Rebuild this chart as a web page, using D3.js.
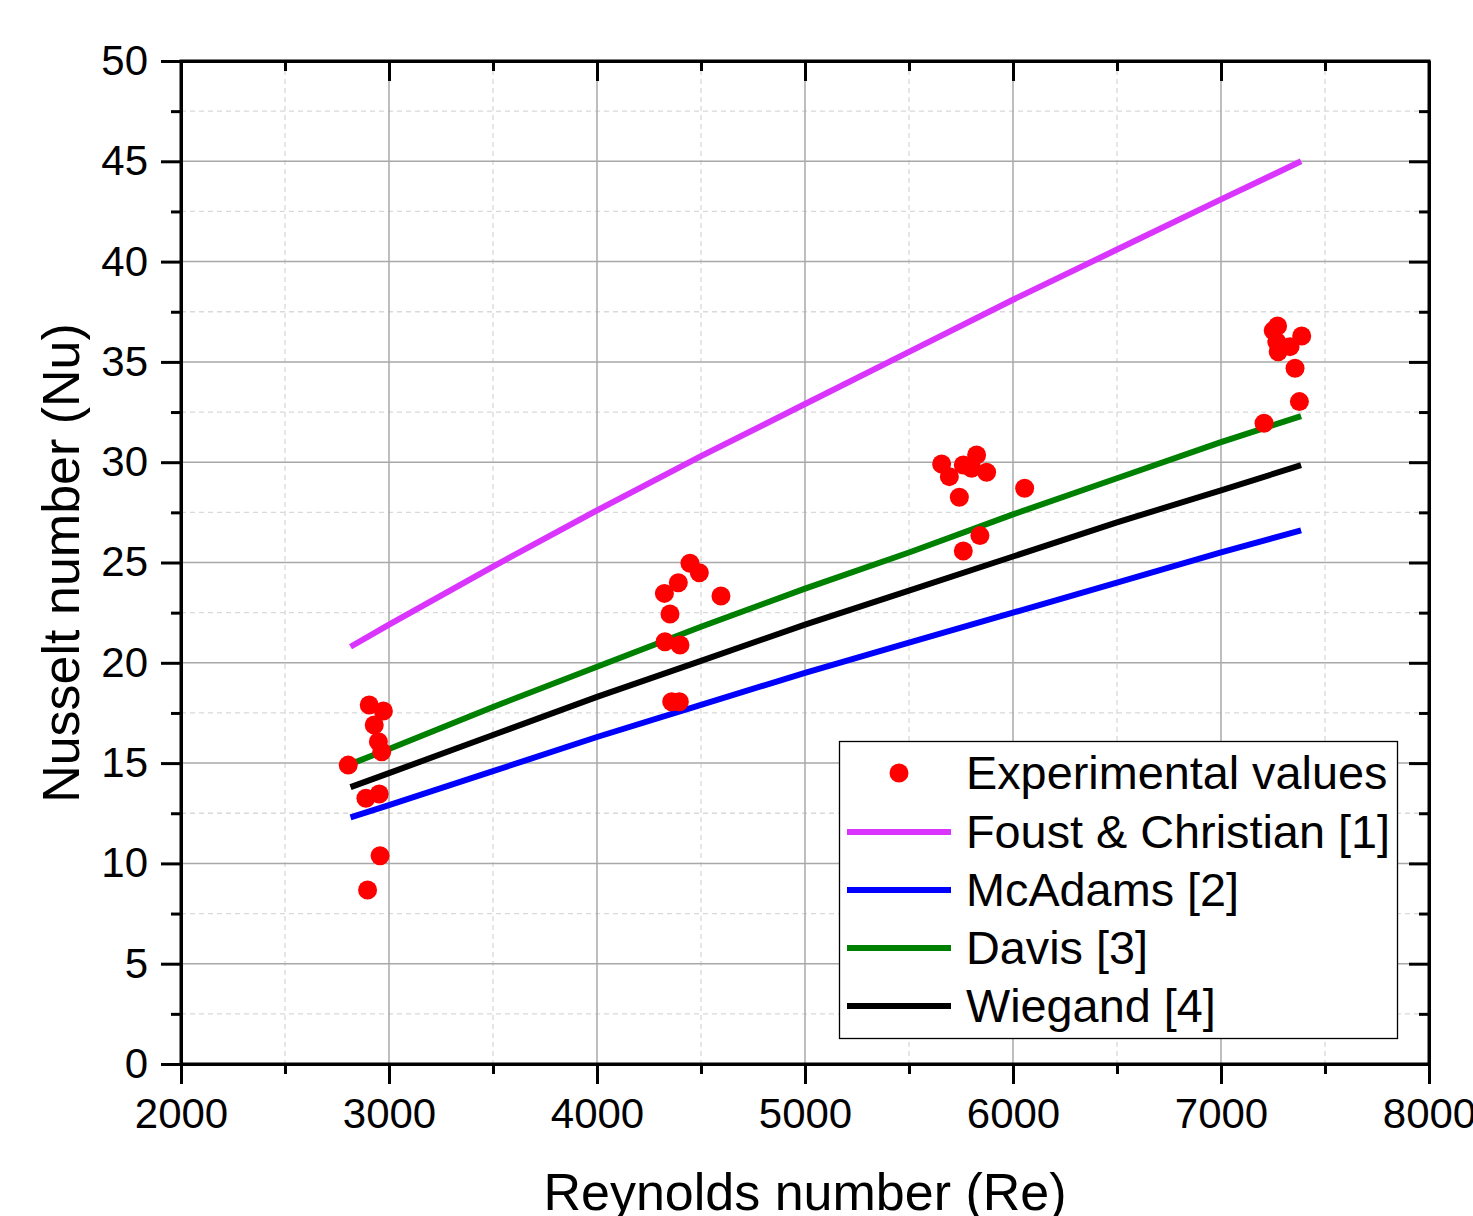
<!DOCTYPE html>
<html><head><meta charset="utf-8">
<script src="https://cdn.jsdelivr.net/npm/d3@7"></script>
<style>body{margin:0;background:#fff}svg{display:block;font-family:"Liberation Sans",Arial,sans-serif}</style>
</head><body><svg id="c" width="1473" height="1216"></svg>
<script>
// ---- data ----
const expRe = [2905,2973,2929,2949,2965,2804,2889,2953,2957,2897,
  4447,4492,4391,4324,4596,4351,4327,4399,4359,4396,
  5825,5657,5761,5801,5873,5694,5742,6056,5841,5761,
  7272,7251,7388,7268,7332,7275,7356,7377,7207];
const expNu = [17.9,17.6,16.9,16.07,15.57,14.9,13.25,13.46,10.38,8.67,
  24.96,24.49,23.99,23.46,23.33,22.43,21.05,20.89,18.06,18.06,
  30.36,29.91,29.86,29.70,29.5,29.28,28.25,28.70,26.34,25.57,
  36.79,36.56,36.29,36.0,35.76,35.51,34.68,33.02,31.94];
const corrRe = [2815,3000,3500,4000,4500,5000,5500,6000,6500,7000,7385];
const foustNu = [20.8,21.9,24.8,27.6,30.3,32.9,35.5,38.1,40.6,43.1,45.0];
const mcadamsNu = [12.3,12.9,14.6,16.3,17.9,19.5,21.0,22.5,24.0,25.5,26.6];
const davisNu = [14.95,15.7,17.8,19.8,21.8,23.7,25.5,27.4,29.2,31.0,32.3];
const wiegandNu = [13.8,14.5,16.4,18.3,20.1,21.9,23.6,25.3,27.0,28.6,29.85];
const seriesNames = ["Foust & Christian [1]","McAdams [2]","Davis [3]","Wiegand [4]"];
const seriesColors = ["#d935ff","#0000ff","#008000","#000000"];
const xTicks = [2000,3000,4000,5000,6000,7000,8000];
const yTicks = [0,5,10,15,20,25,30,35,40,45,50];

const svg = d3.select("#c");
const L=181,R=1429,T=61,B=1064;
const x = d3.scaleLinear().domain([2000,8000]).range([L,R]);
const y = d3.scaleLinear().domain([0,50]).range([B,T]);
const xMinor = d3.range(2500,8000,1000);
const yMinor = d3.range(2.5,50,5);

// grid
const g = svg.append("g");
g.selectAll(".gxm").data(xMinor).join("line").attr("x1",d=>x(d)).attr("x2",d=>x(d)).attr("y1",T).attr("y2",B)
 .attr("stroke","#d9d9d9").attr("stroke-width",1.3).attr("stroke-dasharray","5,4");
g.selectAll(".gym").data(yMinor).join("line").attr("y1",d=>y(d)).attr("y2",d=>y(d)).attr("x1",L).attr("x2",R)
 .attr("stroke","#d9d9d9").attr("stroke-width",1.3).attr("stroke-dasharray","5,4");
g.selectAll(".gx").data(xTicks.slice(1,-1)).join("line").attr("x1",d=>x(d)).attr("x2",d=>x(d)).attr("y1",T).attr("y2",B)
 .attr("stroke","#a8a8a8").attr("stroke-width",1.5);
g.selectAll(".gy").data(yTicks.slice(1,-1)).join("line").attr("y1",d=>y(d)).attr("y2",d=>y(d)).attr("x1",L).attr("x2",R)
 .attr("stroke","#a8a8a8").attr("stroke-width",1.5);

// correlation lines
const lineGen = d3.line().x((d,i)=>x(corrRe[i])).y(d=>y(d));
[foustNu,mcadamsNu,davisNu,wiegandNu].forEach((s,i)=>{
  svg.append("path").datum(s).attr("d",lineGen).attr("fill","none")
    .attr("stroke",seriesColors[i]).attr("stroke-width",6);
});

// points
svg.append("g").selectAll("circle").data(expRe).join("circle")
  .attr("cx",d=>x(d)).attr("cy",(d,i)=>y(expNu[i])).attr("r",9.5).attr("fill","#ff0000");

// axes
function styleAxis(sel){sel.select(".domain").attr("stroke","#000").attr("stroke-width",3);
  sel.selectAll(".tick line").attr("stroke","#000").attr("stroke-width",3);
  sel.selectAll("text").attr("font-size",42).attr("fill","#000").attr("font-family","Liberation Sans, Arial, sans-serif");}
const ax = svg.append("g").attr("transform",`translate(0,${B})`)
  .call(d3.axisBottom(x).tickValues(xTicks).tickSize(20).tickSizeOuter(0).tickPadding(14).tickFormat(d3.format("d")));
styleAxis(ax);
svg.append("g").attr("transform",`translate(0,${B})`).call(d3.axisBottom(x).tickValues(xMinor).tickSize(10).tickFormat("")).call(styleAxis).select(".domain").remove();
const ay = svg.append("g").attr("transform",`translate(${L},0)`)
  .call(d3.axisLeft(y).tickValues(yTicks).tickSize(20).tickSizeOuter(0).tickPadding(13));
styleAxis(ay);
svg.append("g").attr("transform",`translate(${L},0)`).call(d3.axisLeft(y).tickValues(yMinor).tickSize(10).tickFormat("")).call(styleAxis).select(".domain").remove();
// top and right (inward)
const at = svg.append("g").attr("transform",`translate(0,${T})`)
  .call(d3.axisBottom(x).tickValues(xTicks).tickSize(20).tickSizeOuter(0).tickFormat(""));
styleAxis(at);
svg.append("g").attr("transform",`translate(0,${T})`).call(d3.axisBottom(x).tickValues(xMinor).tickSize(10).tickFormat("")).call(styleAxis).select(".domain").remove();
const ar = svg.append("g").attr("transform",`translate(${R},0)`)
  .call(d3.axisLeft(y).tickValues(yTicks).tickSize(20).tickSizeOuter(0).tickFormat(""));
styleAxis(ar);
svg.append("g").attr("transform",`translate(${R},0)`).call(d3.axisLeft(y).tickValues(yMinor).tickSize(10).tickFormat("")).call(styleAxis).select(".domain").remove();
// frame
svg.append("rect").attr("x",L).attr("y",T).attr("width",R-L).attr("height",B-T).attr("fill","none").attr("stroke","#000").attr("stroke-width",3);

// titles
svg.append("text").attr("x",(L+R)/2).attr("y",1210).attr("text-anchor","middle").attr("font-size",52).text("Reynolds number (Re)");
svg.append("text").attr("transform","translate(79,563) rotate(-90)").attr("text-anchor","middle").attr("font-size",52).text("Nusselt number (Nu)");

// legend
const lg = svg.append("g");
lg.append("rect").attr("x",839.5).attr("y",741.5).attr("width",558).attr("height",297).attr("fill","#fff").attr("stroke","#000").attr("stroke-width",1.3);
const legY = [773,832,890,948,1006];
lg.append("circle").attr("cx",899).attr("cy",legY[0]).attr("r",9.5).attr("fill","#ff0000");
lg.append("text").attr("x",966).attr("y",legY[0]+16).attr("font-size",46.8).text("Experimental values");
seriesNames.forEach((n,i)=>{
  lg.append("line").attr("x1",847).attr("x2",951).attr("y1",legY[i+1]).attr("y2",legY[i+1]).attr("stroke",seriesColors[i]).attr("stroke-width",6);
  lg.append("text").attr("x",966).attr("y",legY[i+1]+16).attr("font-size",46.8).text(n);
});
</script></body></html>
